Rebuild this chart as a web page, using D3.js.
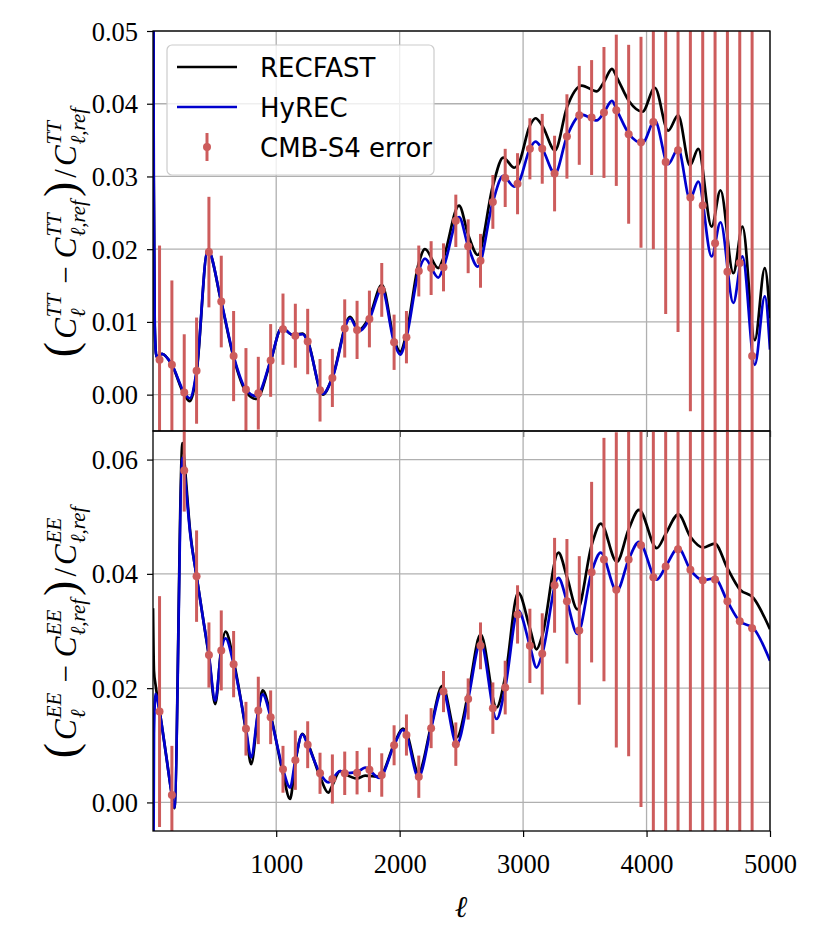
<!DOCTYPE html>
<html>
<head>
<meta charset="utf-8">
<script src="https://cdn.jsdelivr.net/npm/d3@7/dist/d3.min.js"></script>
<style>
body { margin: 0; background: #fff; }
.serif { font-family: "Liberation Serif", "Times New Roman", Times, serif; }
</style>
</head>
<body>
<svg id="drawing_region"></svg>
<script>
// bin centres of the CMB-S4 error points
const ellBins = [55, 155, 255, 355, 455, 555, 655, 755, 855, 955,
    1055, 1155, 1255, 1355, 1455, 1555, 1655, 1755, 1855, 1955,
    2055, 2155, 2255, 2355, 2455, 2555, 2655, 2755, 2855, 2955,
    3055, 3155, 3255, 3355, 3455, 3555, 3655, 3755, 3855, 3955,
    4055, 4155, 4255, 4355, 4455, 4555, 4655, 4755, 4855];

// TT residuals at the bins, and the 1-sigma errors
const ttPoint = [0.0048, 0.0041, 0.0003, 0.0033, 0.0196, 0.0128, 0.0053, 0.0007, 0.0002, 0.0047,
    0.0090, 0.0081, 0.0073, 0.0006, 0.0023, 0.0091, 0.0089, 0.0104, 0.0144, 0.0072,
    0.0079, 0.0170, 0.0174, 0.0175, 0.0239, 0.0204, 0.0184, 0.0265, 0.0298, 0.0290,
    0.0338, 0.0338, 0.0304, 0.0355, 0.0384, 0.0381, 0.0388, 0.0391, 0.0358, 0.0347,
    0.0375, 0.0320, 0.0336, 0.0271, 0.0260, 0.0208, 0.0169, 0.0181, 0.0053];
const ttErr = [0.0157, 0.0116, 0.0080, 0.0073, 0.0076, 0.0063, 0.0062, 0.0057, 0.0050, 0.0050,
    0.0049, 0.0044, 0.0045, 0.0043, 0.0040, 0.0040, 0.0040, 0.0039, 0.0037, 0.0038,
    0.0036, 0.0035, 0.0037, 0.0033, 0.0036, 0.0037, 0.0037, 0.0037, 0.0040, 0.0042,
    0.0042, 0.0048, 0.0052, 0.0058, 0.0068, 0.0079, 0.0090, 0.0104, 0.0123, 0.0145,
    0.0175, 0.0209, 0.0250, 0.0294, 0.035, 0.042, 0.050, 0.060, 0.072];

// EE residuals at the bins, and the 1-sigma errors
const eePoint = [0.0159, 0.0013, 0.0581, 0.0396, 0.0258, 0.0266, 0.0242, 0.0129, 0.0161, 0.0149,
    0.0058, 0.0074, 0.0101, 0.0051, 0.0041, 0.0051, 0.0052, 0.0057, 0.0048, 0.0100,
    0.0118, 0.0045, 0.0130, 0.0194, 0.0102, 0.0181, 0.0274, 0.0165, 0.0201, 0.0329,
    0.0274, 0.0260, 0.0380, 0.0352, 0.0301, 0.0403, 0.0425, 0.0372, 0.0425, 0.0450,
    0.0394, 0.0413, 0.0443, 0.0407, 0.0389, 0.0390, 0.0352, 0.0317, 0.0305];
const eeErr = [0.0202, 0.0086, 0.0072, 0.0080, 0.0057, 0.0070, 0.0058, 0.0047, 0.0059, 0.0047,
    0.0041, 0.0052, 0.0041, 0.0036, 0.0043, 0.0038, 0.0038, 0.0039, 0.0038, 0.0035,
    0.0036, 0.0037, 0.0035, 0.0036, 0.0038, 0.0036, 0.0041, 0.0045, 0.0047, 0.0051,
    0.0065, 0.0071, 0.0083, 0.0109, 0.0130, 0.0158, 0.0213, 0.0276, 0.0344, 0.0458,
    0.058, 0.074, 0.094, 0.12, 0.15, 0.19, 0.24, 0.30, 0.38];

const ttCurveEll = [2, 8, 16, 30, 75, 155, 255, 300, 355, 445,
    555, 655, 755, 840, 955, 1045, 1135, 1215, 1255, 1378,
    1455, 1598, 1668, 1755, 1856, 1955, 2004, 2055, 2155, 2205,
    2313, 2355, 2481, 2555, 2633, 2755, 2839, 2928, 2960, 3055,
    3100, 3155, 3258, 3355, 3475, 3596, 3655, 3720, 3760, 3860,
    3967, 4067, 4175, 4256, 4352, 4419, 4527, 4599, 4703, 4777,
    4877, 4958, 5000];
const ttHyrec = [0.090, 0.030, 0.0095, 0.0052, 0.0056, 0.0041, 0.0003, -0.0005, 0.0033, 0.0199,
    0.0128, 0.0053, 0.0007, -0.0002, 0.0047, 0.0092, 0.0082, 0.0083, 0.0073, 0.0001,
    0.0023, 0.0105, 0.0087, 0.0104, 0.0145, 0.0072, 0.0055, 0.0079, 0.0170, 0.0187,
    0.0161, 0.0175, 0.0244, 0.0204, 0.0176, 0.0265, 0.0301, 0.0286, 0.0290, 0.0338,
    0.0348, 0.0338, 0.0304, 0.0355, 0.0385, 0.0377, 0.0388, 0.0404, 0.0391, 0.0358,
    0.0346, 0.0377, 0.0317, 0.0338, 0.0269, 0.0293, 0.0190, 0.0237, 0.0126, 0.0190,
    0.0041, 0.0135, 0.0062];
const ttRecfast = [0.090, 0.030, 0.0095, 0.0052, 0.0056, 0.0041, 0.0000, -0.0009, 0.0030, 0.0199,
    0.0127, 0.0051, 0.0004, -0.0006, 0.0046, 0.0092, 0.0082, 0.0084, 0.0074, 0.0000,
    0.0024, 0.0107, 0.0089, 0.0107, 0.0151, 0.0076, 0.0059, 0.0084, 0.0181, 0.0200,
    0.0174, 0.0188, 0.0260, 0.0220, 0.0192, 0.0287, 0.0326, 0.0312, 0.0316, 0.0370,
    0.0380, 0.0370, 0.0336, 0.0395, 0.0425, 0.0417, 0.0430, 0.0448, 0.0436, 0.0403,
    0.0389, 0.0422, 0.0363, 0.0384, 0.0315, 0.0338, 0.0231, 0.0281, 0.0167, 0.0231,
    0.0075, 0.0174, 0.0105];

const eeCurveEll = [2, 10, 22, 55, 110, 155, 175, 241, 255, 304,
    355, 411, 455, 506, 555, 590, 655, 755, 797, 855,
    891, 955, 1055, 1112, 1155, 1212, 1255, 1355, 1422, 1455,
    1518, 1555, 1655, 1720, 1836, 1955, 2026, 2055, 2152, 2255,
    2346, 2463, 2555, 2656, 2785, 2855, 2960, 3055, 3109, 3155,
    3286, 3355, 3440, 3555, 3629, 3759, 3855, 3939, 4083, 4155,
    4258, 4355, 4460, 4553, 4655, 4755, 4865, 5000];
const eeHyrec = [-0.030, 0.012, 0.0190, 0.0159, 0.0080, 0.0013, -0.0009, 0.0603, 0.0581, 0.0469,
    0.0396, 0.0317, 0.0258, 0.0178, 0.0266, 0.0287, 0.0242, 0.0129, 0.0079, 0.0161,
    0.0189, 0.0149, 0.0058, 0.0026, 0.0074, 0.0119, 0.0101, 0.0051, 0.0035, 0.0041,
    0.0055, 0.0051, 0.0053, 0.0061, 0.0043, 0.0100, 0.0127, 0.0118, 0.0044, 0.0130,
    0.0198, 0.0102, 0.0181, 0.0280, 0.0146, 0.0201, 0.0336, 0.0274, 0.0236, 0.0260,
    0.0393, 0.0352, 0.0295, 0.0403, 0.0437, 0.0370, 0.0425, 0.0456, 0.0390, 0.0413,
    0.0445, 0.0407, 0.0389, 0.0392, 0.0352, 0.0317, 0.0305, 0.0248];
const eeRecfast = [0.034, 0.023, 0.0207, 0.0162, 0.0080, 0.0013, -0.0010, 0.0629, 0.0600, 0.0472,
    0.0396, 0.0317, 0.0255, 0.0172, 0.0270, 0.0299, 0.0248, 0.0125, 0.0067, 0.0160,
    0.0196, 0.0153, 0.0050, 0.0006, 0.0070, 0.0120, 0.0104, 0.0045, 0.0017, 0.0030,
    0.0055, 0.0050, 0.0042, 0.0047, 0.0045, 0.0102, 0.0129, 0.0122, 0.0052, 0.0134,
    0.0204, 0.0114, 0.0190, 0.0294, 0.0166, 0.0220, 0.0367, 0.0305, 0.0268, 0.0292,
    0.0437, 0.0395, 0.0338, 0.0450, 0.0488, 0.0421, 0.0478, 0.0512, 0.0445, 0.0470,
    0.0504, 0.0465, 0.0446, 0.0453, 0.0410, 0.0373, 0.0358, 0.0303];

const xTicks = [1000, 2000, 3000, 4000, 5000];
const ttTicks = [0.00, 0.01, 0.02, 0.03, 0.04, 0.05];
const eeTicks = [0.00, 0.02, 0.04, 0.06];

const SERIF = '"Liberation Serif", "Times New Roman", Times, serif';
const SANS = '"DejaVu Sans", sans-serif';
const RED = '#cd5c5c';

const svg = d3.select('#drawing_region')
    .attr('width', 830)
    .attr('height', 934);

class ResidualPanel {
    constructor(config, data) {
        this.config = config;
        this.data = data;
        this.init();
    }
    init() {
        let self = this;
        const c = self.config;

        self.chart = svg.append('g')
            .attr('transform', `translate(${c.left}, ${c.top})`);

        self.xscale = d3.scaleLinear()
            .domain([2, 5000])
            .range([0, c.width]);
        self.yscale = d3.scaleLinear()
            .domain(c.ydomain)
            .range([c.height, 0]);

        self.chart.append('clipPath')
            .attr('id', c.id + '_clip')
            .append('rect')
            .attr('width', c.width)
            .attr('height', c.height);

        // grid
        self.chart.append('g')
            .selectAll('line')
            .data(xTicks)
            .join('line')
            .attr('x1', d => self.xscale(d)).attr('x2', d => self.xscale(d))
            .attr('y1', 0).attr('y2', c.height)
            .attr('stroke', '#b0b0b0').attr('stroke-width', 1.3);
        self.chart.append('g')
            .selectAll('line')
            .data(c.yticks)
            .join('line')
            .attr('x1', 0).attr('x2', c.width)
            .attr('y1', d => self.yscale(d)).attr('y2', d => self.yscale(d))
            .attr('stroke', '#b0b0b0').attr('stroke-width', 1.3);

        self.plot = self.chart.append('g')
            .attr('clip-path', `url(#${c.id}_clip)`);

        self.yaxis = d3.axisLeft(self.yscale)
            .tickValues(c.yticks)
            .tickFormat(d3.format('.2f'))
            .tickSize(6);
        self.yaxis_group = self.chart.append('g');

        self.xaxis = d3.axisBottom(self.xscale)
            .tickValues(xTicks)
            .tickFormat(c.showX ? d3.format('d') : '')
            .tickSize(6);
        self.xaxis_group = self.chart.append('g')
            .attr('transform', `translate(0, ${c.height})`);
    }
    render() {
        let self = this;
        const c = self.config;

        const line = d3.line()
            .x(d => self.xscale(d[0]))
            .y(d => self.yscale(d[1]))
            .curve(d3.curveMonotoneX);

        self.plot.append('path')
            .attr('d', line(d3.zip(self.data.curveEll, self.data.recfast)))
            .attr('fill', 'none').attr('stroke', '#000').attr('stroke-width', 2.7);
        self.plot.append('path')
            .attr('d', line(d3.zip(self.data.curveEll, self.data.hyrec)))
            .attr('fill', 'none').attr('stroke', '#0000cd').attr('stroke-width', 2.7);

        const pts = d3.zip(ellBins, self.data.point, self.data.err);
        self.plot.selectAll('line.err')
            .data(pts)
            .join('line')
            .attr('class', 'err')
            .attr('x1', d => self.xscale(d[0])).attr('x2', d => self.xscale(d[0]))
            .attr('y1', d => self.yscale(d[1] - d[2]))
            .attr('y2', d => self.yscale(d[1] + d[2]))
            .attr('stroke', RED).attr('stroke-width', 3);
        self.plot.selectAll('circle')
            .data(pts)
            .join('circle')
            .attr('cx', d => self.xscale(d[0]))
            .attr('cy', d => self.yscale(d[1]))
            .attr('r', 4)
            .attr('fill', RED);

        // spines
        self.chart.append('rect')
            .attr('width', c.width).attr('height', c.height)
            .attr('fill', 'none').attr('stroke', '#000').attr('stroke-width', 1.3);

        self.yaxis_group.call(self.yaxis)
            .attr('font-family', SERIF).attr('font-size', 26.5);
        self.yaxis_group.select('.domain').remove();
        self.yaxis_group.selectAll('text')
            .attr('class', 'serif')
            .attr('x', -15).attr('dy', null).attr('y', 9)
            .attr('fill', '#000');

        self.xaxis_group.call(self.xaxis)
            .attr('font-family', SERIF).attr('font-size', 26.5);
        self.xaxis_group.select('.domain').remove();
        self.xaxis_group.selectAll('text')
            .attr('class', 'serif')
            .attr('dy', null).attr('y', 42)
            .attr('fill', '#000');
        self.chart.selectAll('.tick line').attr('stroke-width', 1.2);
    }
}

const top_panel = new ResidualPanel({
    id: 'tt', left: 153, top: 31, width: 617, height: 400,
    ydomain: [-0.005, 0.05], yticks: ttTicks, showX: false
}, {curveEll: ttCurveEll, hyrec: ttHyrec, recfast: ttRecfast, point: ttPoint, err: ttErr});
top_panel.render();

const bottom_panel = new ResidualPanel({
    id: 'ee', left: 153, top: 431, width: 617, height: 400,
    ydomain: [-0.005, 0.065], yticks: eeTicks, showX: true
}, {curveEll: eeCurveEll, hyrec: eeHyrec, recfast: eeRecfast, point: eePoint, err: eeErr});
bottom_panel.render();

// y labels: (C^XX_l - C^XX_l,ref) / C^XX_l,ref  built piece by piece
function ylabel(cx, cy, pol) {
    const g = svg.append('g').attr('transform', `translate(${cx}, ${cy}) rotate(-90)`);
    const inner = g.append('g');
    const pieces = [
        {t: '(', size: 46, style: 'normal', gap: 3},
        {t: 'C', sup: pol, sub: 'ℓ'},
        {t: '−', size: 31, style: 'normal', pre: 7, gap: 8},
        {t: 'C', sup: pol, sub: 'ℓ,ref'},
        {t: ')', size: 46, style: 'normal', gap: 4},
        {t: '/', size: 31, style: 'normal', gap: 3},
        {t: 'C', sup: pol, sub: 'ℓ,ref'}
    ];
    let x = 0;
    pieces.forEach(p => {
        x += p.pre || 0;
        const t = inner.append('text').attr('x', x).attr('y', 0)
            .attr('class', 'serif')
            .style('font-size', (p.size || 31) + 'px')
            .style('font-style', p.style || 'italic')
            .text(p.t);
        x += t.node().getComputedTextLength() + (p.gap || 1);
        if (p.sup) {
            const a = inner.append('text').attr('x', x).attr('y', -15)
                .attr('class', 'serif').style('font-size', '21px').style('font-style', 'italic')
                .text(p.sup);
            const b = inner.append('text').attr('x', x).attr('y', 9)
                .attr('class', 'serif').style('font-size', '21px').style('font-style', 'italic')
                .text(p.sub);
            x += Math.max(a.node().getComputedTextLength(), b.node().getComputedTextLength()) + 3;
        }
    });
    inner.attr('transform', `translate(${-x / 2}, 0)`);
}
ylabel(76, 231, 'TT');
ylabel(76, 631, 'EE');

svg.append('text')
    .attr('x', 461).attr('y', 917)
    .attr('text-anchor', 'middle')
    .style('font-family', '"DejaVu Serif", serif')
    .style('font-size', '30px').style('font-style', 'italic')
    .text('ℓ');

// legend
const legend = svg.append('g').attr('transform', 'translate(167, 45)');
legend.append('rect')
    .attr('width', 267).attr('height', 130).attr('rx', 5)
    .attr('fill', '#fff').attr('fill-opacity', 0.8)
    .attr('stroke', '#cccccc').attr('stroke-width', 1.2);
const entries = [
    {label: 'RECFAST', color: '#000', kind: 'line'},
    {label: 'HyREC', color: '#0000cd', kind: 'line'},
    {label: 'CMB-S4 error', color: RED, kind: 'err'}
];
entries.forEach((e, i) => {
    const yy = 22 + i * 40;
    if (e.kind === 'line') {
        legend.append('line')
            .attr('x1', 10).attr('x2', 70).attr('y1', yy).attr('y2', yy)
            .attr('stroke', e.color).attr('stroke-width', 2.7);
    } else {
        legend.append('line')
            .attr('x1', 40).attr('x2', 40).attr('y1', yy - 14).attr('y2', yy + 14)
            .attr('stroke', e.color).attr('stroke-width', 3);
        legend.append('circle').attr('cx', 40).attr('cy', yy).attr('r', 4).attr('fill', e.color);
    }
    legend.append('text')
        .attr('x', 93).attr('y', yy + 10)
        .style('font-family', SANS).style('font-size', '26px')
        .text(e.label);
});
</script>
</body>
</html>
